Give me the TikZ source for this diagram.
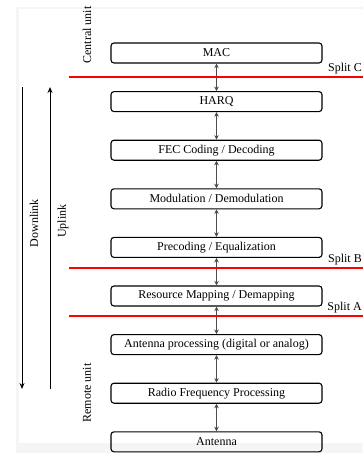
\documentclass[tikz,border=0pt]{standalone}
\usepackage{fontspec}
\setmainfont{Liberation Serif}
\usetikzlibrary{positioning, calc, arrows.meta}

\begin{document}
\begin{tikzpicture}[x=1pt, y=1pt, font=\fontsize{12}{14}\selectfont,
	block/.style={draw, line width=1.1pt, rounded corners=3pt, minimum width=211pt, minimum height=20pt, inner sep=0pt},
	link/.style={<->, >={Stealth[length=4.5pt, width=4.5pt]}, line width=1pt, draw=black!70},
	splitline/.style={draw=red, line width=1.4pt},
	splitlabel/.style={anchor=south east, inner sep=1pt},
	node distance=27.5pt]

	\useasboundingbox (0,0) rectangle (363,-453);
	\fill[black!4] (16,-7) rectangle (363,-453);
	\fill[white] (19,-9) rectangle (363,-443);

	\node[block] (mac) at (216.5,-53) {MAC};
	\node[block, below=of mac] (harq) {HARQ};
	\node[block, below=of harq] (fec) {FEC Coding / Decoding};
	\node[block, below=of fec] (mod) {Modulation / Demodulation};
	\node[block, below=of mod] (prec) {Precoding / Equalization};
	\node[block, below=of prec] (rmap) {Resource Mapping / Demapping};
	\node[block, below=of rmap] (ant) {Antenna processing (digital or analog)};
	\node[block, below=of ant] (rf) {Radio Frequency Processing};
	\node[block, below=of rf] (antenna) {Antenna};

	\draw[link]
	(mac) edge (harq)
	(harq) edge (fec)
	(fec) edge (mod)
	(mod) edge (prec)
	(prec) edge (rmap)
	(rmap) edge (ant)
	(ant) edge (rf)
	(rf) edge (antenna);

	% split lines
	\coordinate (splitC) at (69,-77);
	\coordinate (splitB) at (69,-268);
	\coordinate (splitA) at (69,-316);
	\draw[splitline] (splitC) -- ++(294,0) coordinate (endC);
	\draw[splitline] (splitB) -- ++(294,0) coordinate (endB);
	\draw[splitline] (splitA) -- ++(294,0) coordinate (endA);
	\node[splitlabel] (labC) at ([yshift=2pt]endC) {Split C};
	\node[splitlabel] (labB) at ([yshift=2pt]endB) {Split B};
	\node[splitlabel] (labA) at ([yshift=2pt]endA) {Split A};

	% downlink / uplink
	\coordinate (dlTop) at (22,-87);
	\coordinate (dlBot) at (22,-389);
	\coordinate (ulTop) at (50,-87);
	\coordinate (ulBot) at (50,-389);
	\draw[-{Stealth[length=6pt, width=5pt]}, line width=1pt] (dlTop) -- (dlBot);
	\draw[-{Stealth[length=6pt, width=5pt]}, line width=1pt] (ulBot) -- (ulTop);
	\node[rotate=90] (down) at (34,-223) {Downlink};
	\node[rotate=90] (up) at (63,-221) {Uplink};

	\node[rotate=90] (cu) at (87,-35) {Central unit};
	\node[rotate=90] (ru) at (87,-393) {Remote unit};

\end{tikzpicture}
\end{document}
